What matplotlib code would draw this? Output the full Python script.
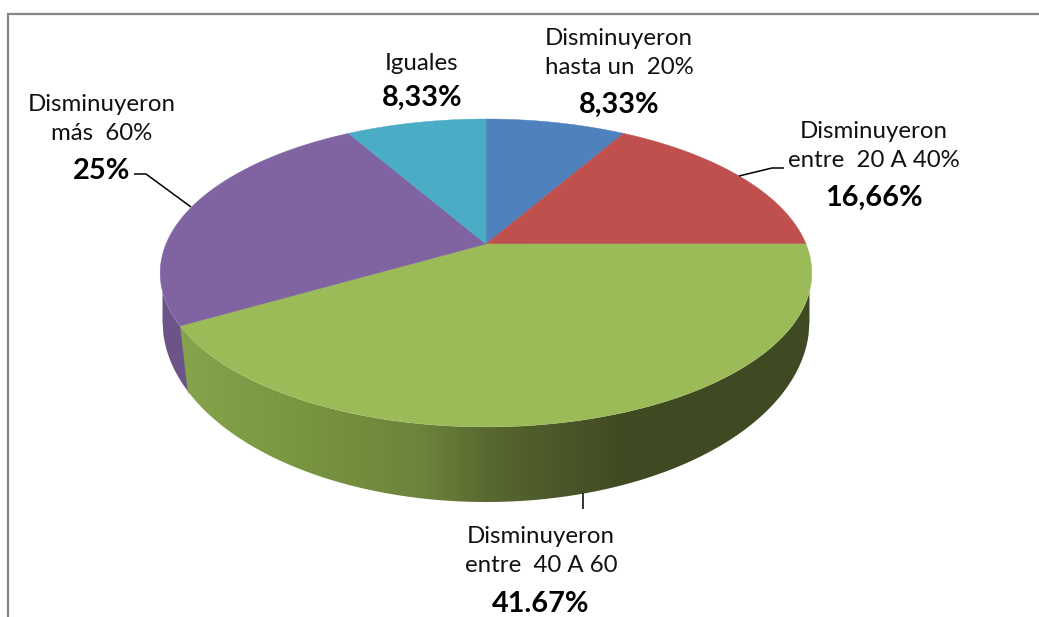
import numpy as np
import matplotlib
matplotlib.use("Agg")
import matplotlib.pyplot as plt
from matplotlib.patches import Polygon
from matplotlib.colors import LinearSegmentedColormap

# ---- data (clockwise from 12 o'clock) ----
categories = ["Disminuyeron\nhasta un  20%", "Disminuyeron\nentre  20 A 40%",
              "Disminuyeron\nentre  40 A 60", "Disminuyeron\nmás  60%", "Iguales"]
values = [8.33, 16.66, 41.67, 25.0, 8.33]
value_labels = ["8,33%", "16,66%", "41.67%", "25%", "8,33%"]
colors = ["#4f81bd", "#c0504d", "#9bbb59", "#8064a2", "#4bacc6"]

W, H = 1039, 617
plt.rcParams["font.family"] = ["Lato", "DejaVu Sans"]
fig = plt.figure(figsize=(W / 100, H / 100), dpi=100)
ax = fig.add_axes([0, 0, 1, 1])
ax.set_xlim(0, W)
ax.set_ylim(H, 0)
ax.axis("off")

# ---- perspective projection of the pie disc ----
CX, CY = 486.0, 244.0
A, B, K = 320.0, 148.5, 0.188


def project(theta):
    """theta: radians clockwise from top -> top-face pixel coords."""
    u, v = np.sin(theta), np.cos(theta)
    d = 1 + K * v
    return CX + A * u / d, CY - B * v / d


def top_arc_y(x):
    return 273 + 154 * np.sqrt(np.clip(1 - ((x - CX) / 326.0) ** 2, 0, 1))


def bot_arc_y(x):
    return 321 + 181 * np.sqrt(np.clip(1 - ((x - CX) / 323.5) ** 2, 0, 1))


edges = np.concatenate([[0], np.cumsum(values)]) / np.sum(values) * 2 * np.pi

# ---- side wall ----
corner_x, corner_y = project(edges[3])
xs = np.linspace(CX - 323.5, CX + 323.5, 700)

# purple wall (left of the green one)
xp = xs[xs < corner_x + 10]
ax.add_patch(Polygon(np.r_[np.c_[xp, np.maximum(top_arc_y(xp), 285)],
                           np.c_[xp, bot_arc_y(xp)][::-1]],
                     closed=True, fc="#6c5489", ec="none", zorder=1))

# green wall with horizontal gradient
stops = [(0.00, "#85a44c"), (0.19, "#78953f"), (0.38, "#6d843c"),
         (0.484, "#596a30"), (0.57, "#4e5b2b"), (0.70, "#414b23"), (1.00, "#3f4a22")]
cmap = LinearSegmentedColormap.from_list("wall", stops)
xg = xs[xs >= corner_x + 8]
wall_poly = np.r_[[[corner_x, corner_y]],
                  np.c_[xg, top_arc_y(xg)],
                  np.c_[xg, bot_arc_y(xg)][::-1],
                  [[corner_x + 8, corner_y + 69]]]
clip = Polygon(wall_poly, closed=True, transform=ax.transData, fc="none", ec="none")
ax.add_patch(clip)
im = ax.imshow(np.linspace(0, 1, 256)[None, :], cmap=cmap, aspect="auto",
               extent=(corner_x, CX + 326, 510, 280), zorder=2, interpolation="bilinear")
im.set_clip_path(clip)
ax.set_xlim(0, W)
ax.set_ylim(H, 0)

# ---- top face ----
for i, (val, col) in enumerate(zip(values, colors)):
    th = np.linspace(edges[i], edges[i + 1], 200)
    x, y = project(th)
    ax.add_patch(Polygon(np.r_[[[CX, CY]], np.c_[x, y]], closed=True,
                         fc=col, ec=col, lw=0.3, zorder=3))

# ---- leader lines ----
leaders = [([134, 146, 191], [174, 174, 207]),
           ([739, 772, 784], [176, 168, 168]),
           ([583, 583], [493, 509])]
for lx, ly in leaders:
    ax.plot(lx, ly, color="black", lw=1.1, zorder=5, solid_capstyle="butt")

# ---- labels ----
name_pos = [(619, 53), (874, 146), (541, 551), (102, 119), (422, 63)]
val_pos = [(619, 105), (874, 198), (541, 604), (102, 171), (422, 98)]
for name, vl, (nx, ny), (vx, vy) in zip(categories, value_labels, name_pos, val_pos):
    ax.text(nx, ny, name, ha="center", va="center", fontsize=17.3, color="#111111",
            linespacing=1.52, zorder=6)
    ax.text(vx, vy, vl, ha="center", va="center", fontsize=20.8, fontweight="bold",
            color="black", zorder=6)

# ---- chart frame (only top and left are in view) ----
ax.plot([8, 8, W], [H, 14, 14], color="#868686", lw=1.6, zorder=0,
        solid_joinstyle="miter", clip_on=False)

fig.savefig("out.png", dpi=100, facecolor="white")
